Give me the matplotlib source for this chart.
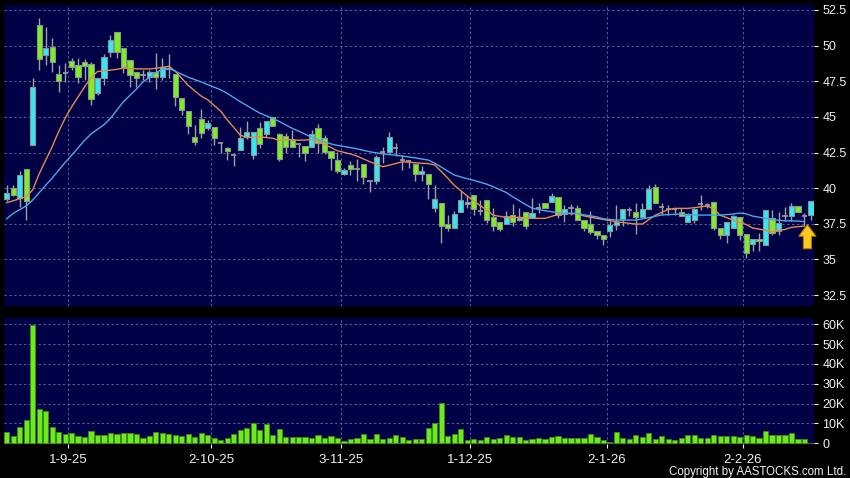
import matplotlib
matplotlib.use('Agg')
import matplotlib.pyplot as plt
import numpy as np

plt.rcParams['font.family'] = ['Liberation Sans', 'DejaVu Sans']

# ---------------- data ----------------
opens = [39.23, 40.0, 39.3, 41.33, 43.04, 51.45, 49.35, 49.93, 48.04, 48.1,
         48.93, 48.64, 48.88, 48.69, 46.66, 47.71, 49.58, 50.93, 49.81, 49.0,
         48.18, 47.94, 47.83, 48.13, 47.83, 48.36, 47.99, 46.31, 45.44, 43.57,
         44.84, 44.21, 44.28, 43.15, 42.8, 42.34, 42.69, 43.62, 42.34, 44.25,
         43.81, 44.98, 43.79, 43.69, 43.39, 43.08, 42.99, 42.87, 44.21, 43.5,
         42.62, 41.99, 40.98, 41.59, 41.36, 41.71, 40.47, 40.51, 42.52, 42.57,
         42.85, 41.94, 41.87, 41.68, 40.98, 40.98, 38.6, 38.95, 37.48, 37.2,
         38.36, 38.9, 39.49, 38.41, 39.14, 37.97, 37.59, 37.5, 38.13, 37.73,
         38.36, 37.9, 38.6, 38.99, 39.0, 39.37, 38.2, 38.6, 38.6, 37.78,
         37.48, 36.96, 36.73, 36.96, 37.43, 37.85, 38.48, 38.32, 37.97, 38.53,
         40.07, 38.71, 38.55, 38.53, 38.36, 37.62, 37.78, 38.9, 38.79, 39.0,
         37.2, 36.73, 37.2, 37.97, 36.8, 36.07, 36.43, 35.98, 37.9, 36.96,
         38.01, 38.06, 38.76, 38.01, 38.13]
closes = [39.65, 39.53, 40.89, 39.11, 47.08, 49.04, 49.81, 48.83, 47.55, 48.1,
          48.48, 47.83, 48.57, 46.26, 47.71, 49.18, 50.37, 49.58, 48.53, 47.94,
          47.71, 47.94, 48.13, 47.78, 48.48, 48.36, 46.38, 45.49, 44.39, 43.27,
          43.86, 44.56, 43.5, 43.15, 42.64, 42.34, 43.55, 43.97, 43.93, 43.1,
          44.74, 44.37, 42.06, 42.87, 42.92, 43.08, 42.45, 43.79, 43.2, 42.57,
          42.1, 41.21, 41.29, 41.36, 41.36, 40.75, 40.47, 42.15, 42.52, 43.62,
          42.85, 41.94, 41.87, 40.98, 41.17, 40.28, 39.23, 37.36, 37.2, 38.18,
          39.18, 39.0, 38.53, 38.41, 37.74, 37.31, 37.13, 38.06, 37.62, 37.9,
          37.31, 38.29, 38.6, 38.64, 39.42, 38.13, 38.55, 38.6, 37.78, 37.2,
          36.92, 36.73, 36.43, 37.38, 37.62, 38.53, 38.48, 37.97, 38.53, 39.95,
          38.95, 38.71, 38.55, 38.53, 38.06, 38.13, 38.55, 38.9, 38.79, 37.2,
          36.73, 37.62, 38.01, 36.73, 35.44, 36.43, 36.26, 38.48, 36.85, 37.55,
          38.01, 38.76, 38.36, 38.01, 39.07]
highs = [40.2, 40.23, 41.17, 41.33, 47.76, 51.96, 51.33, 50.56, 48.64, 48.76,
         49.16, 49.16, 49.04, 48.88, 47.71, 49.39, 50.75, 50.93, 49.81, 49.0,
         48.18, 48.29, 48.29, 49.46, 49.16, 49.39, 47.99, 46.31, 45.44, 44.44,
         45.54, 44.79, 44.28, 43.2, 42.92, 42.38, 44.32, 44.72, 43.93, 44.67,
         44.74, 45.02, 43.86, 43.86, 44.09, 43.08, 42.99, 44.09, 44.49, 43.74,
         42.62, 42.57, 41.4, 41.87, 42.06, 41.71, 40.47, 42.34, 42.92, 43.93,
         43.15, 42.34, 41.94, 41.68, 41.52, 40.98, 40.23, 38.95, 38.13, 38.41,
         39.81, 39.49, 39.49, 39.18, 39.14, 38.64, 37.59, 38.41, 38.88, 38.6,
         38.36, 39.34, 38.95, 38.99, 39.65, 39.37, 38.83, 38.88, 38.83, 37.78,
         38.41, 36.96, 36.73, 37.66, 38.83, 38.53, 38.71, 38.95, 38.95, 40.23,
         40.28, 38.95, 38.79, 38.6, 38.6, 38.25, 38.6, 39.53, 38.95, 39.0,
         37.2, 37.62, 38.13, 37.97, 36.8, 36.43, 36.85, 38.48, 38.48, 38.36,
         38.71, 38.95, 38.76, 38.25, 39.07]
lows = [39.07, 39.42, 38.7, 37.78, 43.04, 48.3, 48.64, 48.13, 46.78, 47.48,
        48.29, 47.36, 47.59, 45.84, 46.5, 47.24, 49.23, 49.16, 48.06, 47.13,
        47.13, 47.59, 47.48, 46.96, 47.59, 47.71, 45.79, 45.14, 43.81, 43.04,
        43.5, 44.1, 43.04, 42.45, 41.99, 41.52, 42.69, 43.46, 42.06, 42.8,
        43.62, 44.37, 41.87, 42.45, 42.87, 42.15, 41.92, 42.87, 42.45, 42.38,
        41.29, 41.05, 40.93, 40.89, 40.51, 40.28, 39.72, 40.28, 41.75, 42.57,
        42.22, 41.29, 41.4, 40.47, 40.47, 39.25, 38.36, 36.14, 36.96, 37.2,
        38.36, 38.64, 38.13, 38.13, 37.55, 36.96, 36.96, 37.5, 37.31, 37.66,
        37.15, 37.9, 38.29, 38.64, 39.0, 37.9, 37.64, 38.13, 37.78, 36.96,
        36.75, 36.45, 36.03, 36.54, 37.08, 37.31, 38.01, 36.8, 37.97, 38.53,
        38.95, 38.13, 38.13, 38.1, 38.06, 37.62, 37.55, 38.5, 38.64, 37.08,
        36.45, 36.14, 37.2, 36.38, 35.09, 35.56, 35.56, 35.98, 36.73, 36.73,
        37.66, 37.66, 38.36, 37.43, 37.78]
volumes_k = [5.9, 3.7, 8.4, 11.7, 59.5, 17.3, 16.1, 8.2, 5.5, 4.7,
             5.2, 3.9, 3.4, 6.0, 4.2, 4.2, 5.2, 4.9, 5.2, 5.2,
             4.9, 2.8, 3.9, 5.5, 5.2, 4.9, 4.2, 3.5, 4.7, 3.2,
             5.0, 4.0, 2.8, 1.5, 2.5, 4.5, 6.7, 7.7, 10.0, 6.9,
             9.7, 4.2, 7.2, 3.2, 3.0, 3.2, 3.4, 2.5, 4.4, 2.7,
             3.7, 2.5, 1.2, 2.2, 2.5, 4.5, 2.2, 4.5, 2.0, 2.7,
             4.0, 3.4, 1.5, 2.3, 2.2, 7.5, 10.4, 20.1, 3.7, 4.7,
             7.4, 1.7, 2.2, 1.7, 3.4, 2.3, 2.5, 4.0, 3.2, 3.0,
             1.5, 2.3, 2.5, 2.0, 3.2, 3.7, 2.7, 2.7, 2.8, 2.7,
             4.5, 3.2, 1.7, 0.7, 5.5, 2.8, 2.0, 4.0, 3.0, 5.0,
             2.0, 3.9, 2.0, 1.7, 2.8, 4.2, 4.4, 2.5, 2.8, 4.0,
             3.7, 3.7, 3.9, 3.4, 4.0, 3.7, 2.7, 6.2, 4.4, 4.4,
             4.4, 5.0, 2.3, 2.3, 0.3]

# moving averages (candle index, value)
ma_fast_idx = [0, 2, 3, 4, 5, 7, 8, 9, 10, 12, 13, 14, 15, 17, 18, 20, 22, 23, 25, 26,
               27, 28, 30, 31, 33, 34, 36, 37, 39, 41, 42, 44, 45, 47, 48, 50, 51, 53, 54, 56,
               58, 60, 61, 63, 65, 66, 68, 69, 71, 72, 74, 75, 77, 79, 80, 82, 83, 85, 86, 88,
               89, 91, 92, 94, 97, 98, 100, 102, 103, 105, 106, 108, 109, 110, 112, 114, 115, 117, 118, 120,
               121, 123]
ma_fast_val = [38.98, 39.25, 39.4, 39.87, 41.0, 42.9, 43.96, 44.9, 45.7, 47.1, 47.75, 48.18, 48.23, 48.34, 48.42, 48.37, 48.36, 48.41, 48.55, 48.2,
               47.7, 47.2, 46.45, 46.2, 45.4, 44.8, 43.72, 43.55, 43.6, 43.5, 43.36, 43.41, 43.36, 43.4, 43.27, 42.85, 42.62, 42.4, 42.25, 41.85,
               41.5, 41.73, 41.85, 41.78, 41.72, 41.63, 40.7, 40.2, 39.45, 39.1, 38.46, 38.1, 37.95, 37.95, 37.92, 37.88, 37.88, 38.15, 38.23, 38.2,
               38.05, 37.88, 37.8, 37.64, 37.48, 37.48, 38.1, 38.5, 38.58, 38.58, 38.63, 38.75, 38.55, 38.1, 37.76, 37.45, 37.2, 37.05, 36.95, 37.1,
               37.25, 37.34]
ma_slow_idx = [0, 1, 3, 4, 6, 7, 9, 10, 12, 13, 15, 16, 18, 20, 21, 23, 24, 25, 26, 28,
               30, 31, 33, 34, 36, 37, 39, 41, 42, 44, 45, 47, 48, 50, 51, 53, 54, 56, 58, 59,
               61, 63, 65, 66, 68, 69, 71, 72, 74, 75, 77, 78, 80, 81, 83, 85, 86, 88, 89, 91,
               92, 94, 97, 99, 101, 104, 106, 110, 112, 113, 114, 115, 117, 118, 120, 122, 123]
ma_slow_val = [37.85, 38.23, 38.75, 39.16, 40.2, 40.7, 41.8, 42.3, 43.35, 43.8, 44.45, 44.9, 46.07, 46.95, 47.45, 48.1, 48.34, 48.41, 48.2, 47.78,
               47.45, 47.26, 46.9, 46.65, 46.07, 45.8, 45.27, 44.9, 44.68, 44.2, 44.0, 43.58, 43.4, 43.1, 43.0, 42.84, 42.76, 42.55, 42.4, 42.36,
               42.25, 42.12, 41.97, 41.75, 41.2, 40.92, 40.66, 40.55, 40.28, 40.1, 39.7, 39.4, 38.85, 38.6, 38.41, 38.28, 38.23, 38.23, 38.13, 37.98,
               37.85, 37.76, 37.76, 37.93, 38.12, 38.18, 38.11, 38.11, 38.18, 38.25, 38.2, 38.04, 37.88, 37.78, 37.71, 37.69, 37.65]

date_pos = [9.5, 31.5, 51.5, 71.5, 92.5, 113.5]
date_labels = ['1-9-25', '2-10-25', '3-11-25', '1-12-25', '2-1-26', '2-2-26']
price_ticks = [32.5, 35, 37.5, 40, 42.5, 45, 47.5, 50, 52.5]
vol_ticks = [0, 10, 20, 30, 40, 50, 60]

# ---------------- styling ----------------
BG = '#000046'
GRID = '#5c5c8c'
UP = '#33E8F4'
DOWN = '#7CF020'
EDGE = '#8c9490'
WICK = '#a0a0a0'
TXT = '#f0f0f0'

W, H = 850, 478
fig = plt.figure(figsize=(W / 100, H / 100), dpi=100, facecolor='black')

ax = fig.add_axes([4 / W, 1 - 306 / H, 810 / W, 301 / H], facecolor=BG)
axv = fig.add_axes([4 / W, 1 - 444 / H, 810 / W, 125.7 / H], facecolor=BG, sharex=ax)

x = np.arange(len(opens))
o = np.array(opens); c = np.array(closes); hi = np.array(highs); lo = np.array(lows)

# wicks
ax.vlines(x, lo, hi, color=WICK, linewidth=1.0, zorder=3)
up = c > o
dn = c < o
dj = c == o
bw = 0.8
ax.bar(x[up], (c - o)[up], bottom=o[up], width=bw, color=UP, edgecolor=EDGE, linewidth=0.8, zorder=4)
ax.bar(x[dn], (o - c)[dn], bottom=c[dn], width=bw, color=DOWN, edgecolor=EDGE, linewidth=0.8, zorder=4)
ax.hlines(o[dj], x[dj] - bw / 2, x[dj] + bw / 2, color=WICK, linewidth=1.2, zorder=4)

# moving averages
ax.plot(ma_fast_idx, ma_fast_val, color='#E8884A', linewidth=1.0, zorder=5)
ax.plot(ma_slow_idx, ma_slow_val, color='#4AA8E8', linewidth=1.0, zorder=5)

# yellow arrow at the last session
ax.annotate('', xy=(len(opens) - 1.55, 37.45), xytext=(len(opens) - 1.55, 35.75),
            arrowprops=dict(arrowstyle='simple,head_width=0.95,head_length=0.65,tail_width=0.45',
                            mutation_scale=13, shrinkA=0, shrinkB=0,
                            fc='#FFC81E', ec='#B07800', lw=0.8), zorder=6)

xlim = (-0.42, 124.47)
ax.set_xlim(*xlim)
ax.set_ylim(31.73, 52.85)
ax.set_yticks(price_ticks)
ax.set_yticklabels(['%g' % t for t in price_ticks])
ax.set_xticks(date_pos)
ax.tick_params(axis='x', which='both', bottom=False, labelbottom=False)
ax.yaxis.tick_right()
ax.tick_params(axis='y', colors=TXT, labelsize=9, length=3, width=0.8, pad=3, direction='out')
for t in ax.get_yticklines():
    t.set_color('#b0b0b0')
ax.grid(True, color=GRID, linestyle=(0, (2.5, 2.5)), linewidth=0.7)
ax.set_axisbelow(True)
for s in ax.spines.values():
    s.set_visible(False)

# volume
axv.bar(x, volumes_k, width=0.8, color='#6CEB1C', edgecolor='#3E8A18', linewidth=0.6, zorder=3)
axv.set_ylim(-0.35, 63.0)
axv.set_yticks(vol_ticks)
axv.set_yticklabels(['0' if v == 0 else '%dK' % v for v in vol_ticks])
axv.yaxis.tick_right()
axv.tick_params(axis='y', colors=TXT, labelsize=9, length=3, width=0.8, pad=3)
axv.set_xticks(date_pos)
axv.set_xticklabels(date_labels)
axv.tick_params(axis='x', colors=TXT, labelsize=9.5, length=3, width=0.8, pad=4)
for t in axv.get_yticklines() + axv.get_xticklines():
    t.set_color('#b0b0b0')
axv.grid(True, color=GRID, linestyle=(0, (2.5, 2.5)), linewidth=0.7)
axv.set_axisbelow(True)
for s in axv.spines.values():
    s.set_visible(False)
axv.set_xlim(*xlim)

fig.text(846 / W, 1 - 471.5 / H, 'Copyright by AASTOCKS.com Ltd.', ha='right', va='center',
         color=TXT, fontsize=8.3)

fig.savefig('out.png', dpi=100, facecolor='black')
